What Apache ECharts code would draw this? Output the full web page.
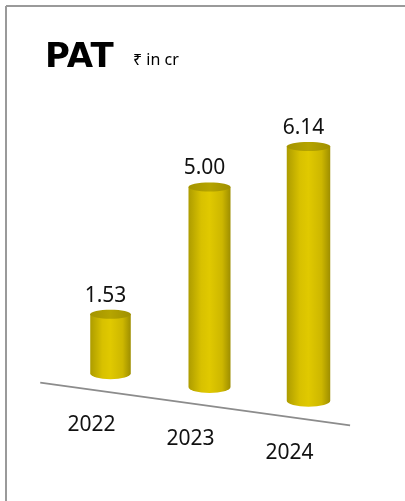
<!DOCTYPE html>
<html>
<head>
<meta charset="UTF-8">
<title>PAT</title>
<style>
  html, body { margin: 0; padding: 0; background: #fff; }
  #main { width: 405px; height: 501px; }
</style>
</head>
<body>
<div id="main"></div>
<script src="https://cdn.jsdelivr.net/npm/echarts@6/dist/echarts.min.js"></script>
<script>
// chart data
var years = ['2022', '2023', '2024'];
var pat = [1.53, 5.00, 6.14];
var patLabels = ['1.53', '5.00', '6.14'];

var SLOPE = 0.138;       // tilt of the floor line
var BAR_W = 42;          // cylinder width at middle category
var RY_TOP = 4.5, RY_BOT = 6;

var bodyFill = new echarts.graphic.LinearGradient(0, 0, 1, 0, [
  { offset: 0, color: '#ad9c00' },
  { offset: 0.3, color: '#d8c100' },
  { offset: 0.5, color: '#e0c900' },
  { offset: 0.8, color: '#cdb700' },
  { offset: 1, color: '#9e8e00' }
]);
var topFill = new echarts.graphic.LinearGradient(0, 0, 1, 0, [
  { offset: 0, color: '#a49400' },
  { offset: 0.5, color: '#b5a400' },
  { offset: 1, color: '#a09000' }
]);

function renderItem(params, api) {
  var i = api.value(0);
  var base = api.coord([i, 0]);
  var top = api.coord([i, api.value(1)]);
  var mid = api.coord([1, 0]);
  var band = api.size([1, 0])[0];
  var persp = 1 + 0.035 * (i - 1);
  var shear = SLOPE * (base[0] - mid[0]);
  var cx = base[0];
  var yb = base[1] + shear;
  var yt = yb - (base[1] - top[1]) * persp;
  var rx = BAR_W * persp / 2;
  var children = [];

  if (params.dataIndex === 0) {
    var x0 = cx - band * 0.71, x1 = cx + band * 2.42;
    children.push({
      type: 'line',
      shape: { x1: x0, y1: base[1] + SLOPE * (x0 - mid[0]) + 19, x2: x1, y2: base[1] + SLOPE * (x1 - mid[0]) + 19 },
      style: { stroke: '#8c8c8c', lineWidth: 1.6 },
      silent: true
    });
  }
  // body
  children.push({
    type: 'path',
    shape: {
      pathData: 'M' + (cx - rx) + ' ' + yt +
        ' L' + (cx - rx) + ' ' + yb +
        ' A' + rx + ' ' + RY_BOT + ' 0 0 0 ' + (cx + rx) + ' ' + yb +
        ' L' + (cx + rx) + ' ' + yt + ' Z'
    },
    style: { fill: bodyFill }
  });
  // top cap
  children.push({
    type: 'ellipse',
    shape: { cx: cx, cy: yt, rx: rx, ry: RY_TOP },
    style: { fill: topFill }
  });
  // value label
  children.push({
    type: 'text',
    style: {
      text: patLabels[params.dataIndex],
      x: cx - 5, y: yt - RY_TOP - 14,
      align: 'center', verticalAlign: 'middle',
      font: '21px "Noto Sans", sans-serif',
      fill: '#111'
    }
  });
  // year label
  children.push({
    type: 'text',
    style: {
      text: years[params.dataIndex],
      x: cx - 19, y: yb + 52,
      align: 'center', verticalAlign: 'middle',
      font: '21px "Noto Sans", sans-serif',
      fill: '#111'
    }
  });
  return { type: 'group', children: children };
}

var chart = echarts.init(document.getElementById('main'), null, { renderer: 'canvas' });
chart.setOption({
  backgroundColor: '#fff',
  animation: false,
  graphic: [
    { type: 'line', shape: { x1: 6, y1: 6, x2: 405, y2: 6 }, style: { stroke: '#9a9a9a', lineWidth: 2 } },
    { type: 'line', shape: { x1: 6, y1: 6, x2: 6, y2: 501 }, style: { stroke: '#9a9a9a', lineWidth: 2 } },
    { type: 'text', left: 45, top: 41, style: { text: 'PAT', font: 'bold 34px "DejaVu Sans", sans-serif', fill: '#000' } },
    { type: 'text', left: 133, top: 52, style: { text: '₹ in cr', font: '16px "Noto Sans", sans-serif', fill: '#000' } }
  ],
  grid: { left: 61, width: 297, top: 67, height: 320 },
  xAxis: { type: 'category', data: years, show: false },
  yAxis: { type: 'value', min: 0, max: 8, show: false },
  series: [{
    type: 'custom',
    renderItem: renderItem,
    encode: { x: 0, y: 1 },
    data: pat.map(function (v, i) { return [i, v]; })
  }]
});
</script>
</body>
</html>
